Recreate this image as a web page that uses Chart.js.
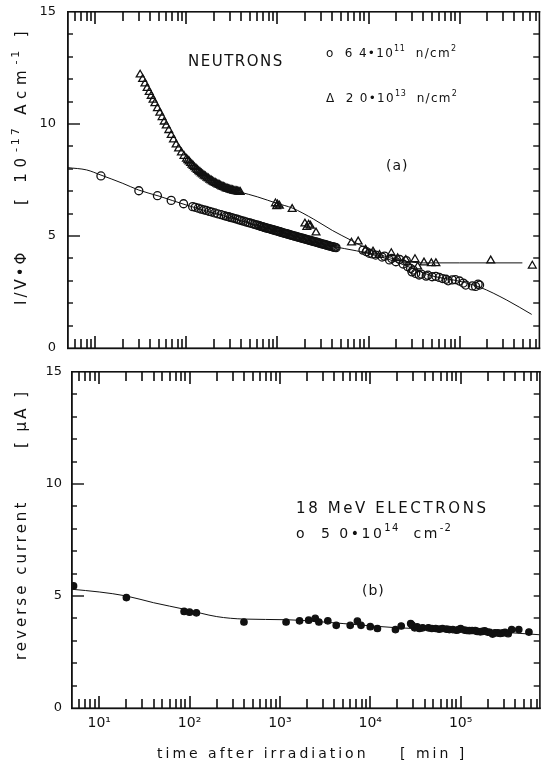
<!DOCTYPE html>
<html>
<head>
<meta charset="utf-8">
<script src="https://cdn.jsdelivr.net/npm/chart.js@4.4.1/dist/chart.umd.min.js"></script>
<style>
  body { margin: 0; background: #fff; }
  #wrap { position: relative; width: 545px; height: 763px; }
  canvas { position: absolute; left: 0; }
  #topChart { top: 0; }
  #bottomChart { top: 360px; }
</style>
</head>
<body>
<div id="wrap">
  <canvas id="topChart" width="545" height="360"></canvas>
  <canvas id="bottomChart" width="545" height="403"></canvas>
</div>
<script>
// Panel (a): neutrons 6.4e11 n/cm2, open circles
const lowFluenceTimes = [
  11.5, 30, 48, 68, 93, 117,
  125, 135, 145, 155, 165, 178, 190, 205, 220, 240, 260, 275, 290, 305,
  320, 340, 360, 380, 400, 425, 450, 475, 500, 530, 560, 590, 620, 640, 660,
  680, 700, 720, 740, 765, 790, 815, 840, 865, 890, 920, 950, 975, 1000, 1030,
  1060, 1090, 1120, 1155, 1190, 1225, 1260, 1300, 1340, 1380, 1420, 1460,
  1500, 1550, 1600, 1650, 1700, 1750, 1800, 1860, 1920, 1980, 2040, 2100,
  2160, 2230, 2300, 2370, 2450, 2520, 2600, 2680, 2760, 2840, 2930, 3010,
  3100, 3200, 3300, 3400, 3500, 3610, 3720, 3830, 3950, 4070, 4200, 4300, 4400,
  8700, 9500, 10200, 11000, 12000, 14100, 15000, 17000, 18000, 20000,
  22000, 24000, 26000, 27000, 29000, 30000, 31000, 33000, 36000, 38000,
  43000, 45000, 50000, 55000, 60000, 65000, 71000, 75000, 83000, 90000,
  100000, 110000, 117000, 138000, 150000, 160000, 166000
];
const lowFluenceValues = [
  7.68, 7.02, 6.80, 6.59, 6.44, 6.31,
  6.28, 6.24, 6.20, 6.17, 6.14, 6.10, 6.07, 6.03, 5.99, 5.95, 5.91, 5.88, 5.86, 5.83,
  5.81, 5.78, 5.75, 5.72, 5.69, 5.66, 5.63, 5.60, 5.58, 5.55, 5.52, 5.49, 5.47, 5.45, 5.43,
  5.42, 5.40, 5.38, 5.37, 5.35, 5.34, 5.32, 5.31, 5.29, 5.28, 5.26, 5.25, 5.23, 5.22, 5.20,
  5.19, 5.17, 5.16, 5.14, 5.13, 5.11, 5.10, 5.08, 5.07, 5.05, 5.04, 5.02,
  5.01, 4.99, 4.98, 4.96, 4.95, 4.93, 4.92, 4.90, 4.89, 4.87, 4.86, 4.84,
  4.83, 4.81, 4.80, 4.78, 4.77, 4.75, 4.74, 4.72, 4.71, 4.69, 4.68, 4.66,
  4.65, 4.63, 4.62, 4.60, 4.59, 4.57, 4.56, 4.54, 4.53, 4.51, 4.50, 4.49, 4.48,
  4.37, 4.30, 4.23, 4.20, 4.15, 4.06, 4.10, 3.93, 4.00, 3.85,
  3.95, 3.75, 3.90, 3.63, 3.55, 3.40, 3.48, 3.33, 3.26, 3.30,
  3.21, 3.25, 3.18, 3.20, 3.15, 3.10, 3.07, 3.00, 3.04, 3.05,
  2.99, 2.90, 2.81, 2.77, 2.75, 2.85, 2.81
];
const lowFitTimes = [5, 8, 11.5, 20, 30, 50, 100, 300, 1000, 3000, 10000, 20000, 35000, 50000, 100000, 166000, 330000, 620000];
const lowFitValues = [8.05, 7.95, 7.72, 7.35, 7.05, 6.78, 6.38, 5.82, 5.22, 4.65, 4.22, 3.85, 3.45, 3.22, 2.98, 2.72, 2.14, 1.5];

// Panel (a): neutrons 2.0e13 n/cm2, open triangles
const highFluenceTimes = [
  31, 33, 35, 37, 39, 41, 43, 45, 48, 51, 54, 57, 60, 64, 68, 72, 77, 82, 88, 94,
  100, 103.5, 107, 111, 115, 119, 123, 127.5, 132, 136.5, 141, 146, 151, 156.5,
  162, 168, 174, 180.5, 187, 193.5, 200, 207.5, 215, 222.5, 230, 238, 246, 254.5,
  263, 272, 281, 290.5, 300, 310, 320, 331, 342, 353.5, 365, 377.5, 390,
  950, 980, 1000, 1050, 1450, 2000, 2100, 2200, 2300, 2650,
  6500, 7700, 9300, 11200, 13200, 17800, 20900, 25700, 32400, 34700, 40700,
  49000, 55000, 220000, 630000
];
const highFluenceValues = [
  12.2, 12.0, 11.8, 11.6, 11.42, 11.25, 11.08, 10.92, 10.7, 10.5, 10.3, 10.1, 9.93, 9.72, 9.5, 9.3, 9.08, 8.9, 8.72, 8.57,
  8.44, 8.38, 8.32, 8.25, 8.18, 8.12, 8.06, 8.0, 7.94, 7.89, 7.84, 7.79, 7.74, 7.69,
  7.65, 7.6, 7.56, 7.51, 7.47, 7.43, 7.4, 7.36, 7.33, 7.3, 7.27, 7.24, 7.21, 7.18,
  7.16, 7.13, 7.11, 7.09, 7.07, 7.05, 7.04, 7.02, 7.01, 6.99, 6.98, 6.97, 6.96,
  6.45, 6.32, 6.40, 6.35, 6.20, 5.55, 5.40, 5.50, 5.45, 5.15,
  4.70, 4.75, 4.38, 4.30, 4.15, 4.23, 4.00, 3.93, 3.96, 3.63, 3.81,
  3.78, 3.78, 3.90, 3.67
];
const highFitTimes = [390, 600, 1000, 1450, 2500, 4000, 6500, 10000, 15000, 25000, 40000, 55000, 100000, 490000];
const highFitValues = [6.96, 6.75, 6.45, 6.25, 5.75, 5.25, 4.8, 4.4, 4.1, 3.88, 3.8, 3.8, 3.8, 3.8];

// Panel (b): 18 MeV electrons 5.0e14 cm-2, filled dots
const electronTimes = [
  5.2, 20, 87, 100, 119, 400, 1170, 1650, 2080, 2460, 2700, 3390, 4200, 6000,
  7200, 7900, 10000, 12000, 19000, 22000, 28000, 29000, 31000, 33000, 35000,
  38000, 44000, 48000, 53000, 58000, 63000, 70000, 75000, 82000, 90000, 95000,
  100000, 110000, 117000, 125000, 134000, 145000, 153000, 165000, 174000,
  185000, 199000, 210000, 226000, 240000, 258000, 275000, 294000, 310000,
  336000, 367000, 440000, 570000
];
const electronValues = [
  5.45, 4.93, 4.31, 4.28, 4.25, 3.84, 3.84, 3.89, 3.92, 4.00, 3.84, 3.89, 3.69, 3.69,
  3.88, 3.69, 3.63, 3.55, 3.50, 3.66, 3.77, 3.70, 3.58, 3.62, 3.55,
  3.58, 3.58, 3.55, 3.55, 3.52, 3.55, 3.52, 3.50, 3.50, 3.47, 3.50,
  3.55, 3.48, 3.46, 3.45, 3.46, 3.45, 3.42, 3.40, 3.42,
  3.44, 3.39, 3.38, 3.30, 3.36, 3.35, 3.33, 3.35, 3.38,
  3.32, 3.50, 3.50, 3.39
];
const electronFitTimes = [5, 10, 20, 40, 90, 200, 400, 1200, 5000, 20000, 100000, 750000];
const electronFitValues = [5.3, 5.18, 5.0, 4.7, 4.4, 4.08, 3.97, 3.94, 3.77, 3.58, 3.5, 3.27];

const xMin = 5;
const xMax = 750000;
const superDigits = { 1: '¹', 2: '²', 3: '³', 4: '⁴', 5: '⁵' };
const ink = '#111';
const fontFamily = '"DejaVu Sans", sans-serif';

const toPoints = (xs, ys) => xs.map((x, i) => ({ x: x, y: ys[i] }));

/**
 * Draw a run of text pieces, some of them raised as superscripts
 * @param {CanvasRenderingContext2D} ctx
 * @param {Array} runs - [text, isSuperscript] pairs
 */
function drawRuns(ctx, runs, x, y, size, spacing) {
  let cx = x;
  runs.forEach(([txt, sup]) => {
    const s = sup ? Math.round(size * 0.7) : size;
    ctx.font = `${s}px ${fontFamily}`;
    ctx.letterSpacing = (sup ? spacing * 0.5 : spacing) + 'px';
    ctx.fillText(txt, cx, sup ? y - size * 0.42 : y);
    cx += ctx.measureText(txt).width;
  });
}

function drawRotatedRuns(ctx, runs, x, y, size, spacing) {
  ctx.save();
  ctx.translate(x, y);
  ctx.rotate(-Math.PI / 2);
  drawRuns(ctx, runs, 0, 0, size, spacing);
  ctx.restore();
}

// frame with inward tick marks on all four sides
const frameTicks = {
  id: 'frameTicks',
  afterDraw(chart) {
    const { ctx, chartArea: a, scales } = chart;
    const xs = scales.x;
    const ys = scales.y;
    const w = a.right - a.left;
    const h = a.bottom - a.top;
    ctx.save();
    ctx.fillStyle = ink;
    ctx.fillRect(a.left - 1, a.top - 1, w + 2, 1.6);
    ctx.fillRect(a.left - 1, a.bottom - 0.6, w + 2, 1.8);
    ctx.fillRect(a.left - 1, a.top - 1, 1.8, h + 2);
    ctx.fillRect(a.right - 0.6, a.top - 1, 1.6, h + 2);
    // log ticks at 1..9 x 10^k, bottom and top edges
    for (let k = 0; k <= 6; k++) {
      for (let m = 1; m <= 9; m++) {
        const v = m * Math.pow(10, k);
        if (v <= xMin || v >= xMax) continue;
        const px = Math.round(xs.getPixelForValue(v));
        const len = m === 1 ? 12 : 9;
        ctx.fillRect(px - 0.8, a.bottom - len, 1.6, len);
        ctx.fillRect(px - 0.8, a.top, 1.6, len);
      }
    }
    for (let v = 1; v < 15; v++) {
      const py = Math.round(ys.getPixelForValue(v));
      ctx.fillRect(a.left, py - 0.7, v % 5 === 0 ? 12 : 5, 1.4);
      ctx.fillRect(a.right - 6, py - 0.7, 6, 1.4);
    }
    ctx.restore();
  }
};

function panelText(drawFn) {
  return {
    id: 'panelText',
    afterDraw(chart) {
      const ctx = chart.ctx;
      ctx.save();
      ctx.fillStyle = ink;
      ctx.textBaseline = 'middle';
      ctx.textAlign = 'left';
      drawFn(ctx);
      ctx.restore();
    }
  };
}

function markerSet(points, style, radius, filled) {
  return {
    type: 'scatter',
    data: points,
    pointStyle: style,
    pointRadius: radius,
    pointBorderWidth: 1.3,
    pointBorderColor: ink,
    pointBackgroundColor: filled ? ink : 'rgba(0,0,0,0)',
    showLine: false
  };
}

function fitLine(points) {
  return {
    type: 'line',
    data: points,
    borderColor: ink,
    borderWidth: 1,
    pointRadius: 0,
    fill: false,
    cubicInterpolationMode: 'monotone'
  };
}

function chartOptions(leftWidth, bottomHeight, topPad, rightPad, showX, yPad) {
  return {
    responsive: false,
    animation: false,
    events: [],
    layout: { padding: { left: 0, right: rightPad, top: topPad, bottom: 0 } },
    plugins: { legend: { display: false }, tooltip: { enabled: false } },
    scales: {
      x: {
        type: 'logarithmic',
        min: xMin,
        max: xMax,
        grid: { display: false, drawTicks: false },
        border: { display: false },
        afterFit: (scale) => {
          scale.height = bottomHeight;
          scale.paddingLeft = 0;
          scale.paddingRight = 0;
        },
        ticks: {
          display: showX,
          autoSkip: false,
          maxRotation: 0,
          padding: 7,
          color: ink,
          font: { family: fontFamily, size: 14 },
          callback: (v) => {
            const e = Math.round(Math.log10(v));
            const exact = Math.abs(v - Math.pow(10, e)) < 1e-6 * v;
            return exact && superDigits[e] ? '10' + superDigits[e] : '';
          }
        }
      },
      y: {
        min: 0,
        max: 15,
        grid: { display: false, drawTicks: false },
        border: { display: false },
        afterFit: (scale) => {
          scale.width = leftWidth;
          scale.paddingTop = 0;
          scale.paddingBottom = 0;
        },
        ticks: {
          stepSize: 5,
          padding: yPad,
          color: ink,
          font: { family: fontFamily, size: 13 }
        }
      }
    }
  };
}

new Chart(document.getElementById('topChart'), {
  type: 'scatter',
  data: {
    datasets: [
      fitLine(toPoints(lowFitTimes, lowFitValues)),
      fitLine(toPoints(highFitTimes, highFitValues)),
      markerSet(toPoints(lowFluenceTimes, lowFluenceValues), 'circle', 4, false),
      markerSet(toPoints(highFluenceTimes, highFluenceValues), 'triangle', 4.5, false)
    ]
  },
  options: chartOptions(68, 12, 12, 3, false, 12),
  plugins: [frameTicks, panelText((ctx) => {
    drawRuns(ctx, [['NEUTRONS', 0]], 188, 62, 15, 1.5);
    drawRuns(ctx, [['o  6 4•10', 0], ['11', 1], ['  n/cm', 0], ['2', 1]], 326, 54, 12, 1.3);
    drawRuns(ctx, [['Δ  2 0•10', 0], ['13', 1], ['  n/cm', 0], ['2', 1]], 326, 99, 12, 1.3);
    drawRuns(ctx, [['(a)', 0]], 386, 166, 14, 1);
    drawRotatedRuns(ctx, [['I/V•Φ', 0]], 22, 305, 15, 3);
    drawRotatedRuns(ctx, [['[ 10', 0], ['-17', 1], [' Acm', 0], ['-1', 1], [' ]', 0]], 22, 205, 15, 5.8);
  })]
});

new Chart(document.getElementById('bottomChart'), {
  type: 'scatter',
  data: {
    datasets: [
      fitLine(toPoints(electronFitTimes, electronFitValues)),
      markerSet(toPoints(electronTimes, electronValues), 'circle', 3.2, true)
    ]
  },
  options: chartOptions(72, 55, 12, 2, true, 10),
  plugins: [frameTicks, panelText((ctx) => {
    drawRuns(ctx, [['18 MeV ELECTRONS', 0]], 296, 149, 15, 2.6);
    drawRuns(ctx, [['o  5 0•10', 0], ['14', 1], ['  cm', 0], ['-2', 1]], 296, 174, 14, 2.5);
    drawRuns(ctx, [['(b)', 0]], 362, 231, 14, 1);
    drawRotatedRuns(ctx, [['reverse current', 0]], 22, 300, 15, 3);
    drawRotatedRuns(ctx, [['[ μA ]', 0]], 22, 88, 15, 3);
    drawRuns(ctx, [['time after irradiation', 0]], 157, 394, 14, 3);
    drawRuns(ctx, [['[ min ]', 0]], 400, 394, 14, 3);
  })]
});
</script>
</body>
</html>
